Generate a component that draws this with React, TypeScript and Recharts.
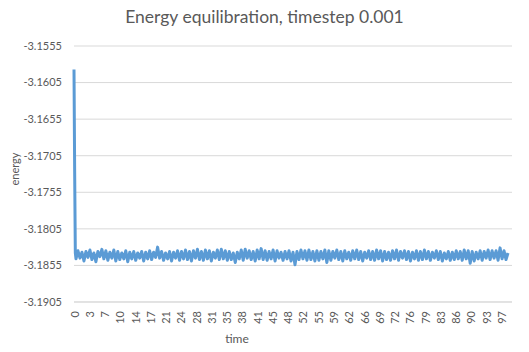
import { LineChart, Line, XAxis, YAxis, CartesianGrid, Label } from 'recharts';

// the first, steep drop is sampled more finely than the rest
const startTime = [0, 0.15, 0.3];
const startEnergy = [-3.1587, -3.1727, -3.1838];

// equilibrated part, one value every timeStep from 0.45
const timeStep = 0.45;
const energy = [
  -3.1846, -3.1835, -3.1845, -3.1837, -3.1849, -3.1836, -3.1844,
  -3.1834, -3.1847, -3.1838, -3.185, -3.1836, -3.1843, -3.1833, -3.1846, -3.1835, -3.1848,
  -3.1837, -3.1845, -3.1834, -3.1849, -3.1836, -3.1847, -3.1838, -3.1846, -3.1835, -3.185,
  -3.1837, -3.1846, -3.1836, -3.1848, -3.1838, -3.1845, -3.1836, -3.1849, -3.1837, -3.1846,
  -3.1835, -3.1847, -3.1837, -3.1844, -3.183, -3.1845, -3.1836, -3.1848, -3.1838, -3.1846,
  -3.1836, -3.1849, -3.1837, -3.1845, -3.1835, -3.1848, -3.1836, -3.1846, -3.1834, -3.1847,
  -3.1836, -3.1849, -3.1835, -3.1845, -3.1833, -3.1847, -3.1836, -3.1848, -3.1834, -3.1846,
  -3.1835, -3.1849, -3.1837, -3.1845, -3.1834, -3.1847, -3.1833, -3.1846, -3.1835, -3.1848,
  -3.1836, -3.1847, -3.1838, -3.1851, -3.1837, -3.1846, -3.1834, -3.1848, -3.1833, -3.1845,
  -3.1835, -3.1847, -3.1836, -3.1849, -3.1834, -3.1846, -3.1832, -3.1847, -3.1835, -3.1848,
  -3.1836, -3.1846, -3.1834, -3.1849, -3.1835, -3.1845, -3.1837, -3.1848, -3.1836, -3.1846,
  -3.1835, -3.1849, -3.1837, -3.1854, -3.1836, -3.1847, -3.1834, -3.1846, -3.1835, -3.1848,
  -3.1834, -3.1847, -3.1836, -3.1849, -3.1835, -3.1848, -3.1836, -3.1846, -3.1834, -3.1851,
  -3.1835, -3.1848, -3.1836, -3.1845, -3.1834, -3.1847, -3.1836, -3.1849, -3.1835, -3.1846,
  -3.1837, -3.1848, -3.1835, -3.1846, -3.1834, -3.1847, -3.1836, -3.1849, -3.1837, -3.1845,
  -3.1835, -3.1847, -3.1836, -3.1848, -3.1834, -3.1846, -3.1835, -3.1849, -3.1836, -3.1847,
  -3.1837, -3.1848, -3.1835, -3.1846, -3.1834, -3.1848, -3.1836, -3.1845, -3.1835, -3.1847,
  -3.1836, -3.1849, -3.1837, -3.1846, -3.1835, -3.1848, -3.1836, -3.1847, -3.1834, -3.1846,
  -3.1836, -3.1848, -3.1837, -3.1845, -3.1835, -3.1847, -3.1836, -3.1849, -3.1838, -3.1846,
  -3.1836, -3.1848, -3.1837, -3.1847, -3.1835, -3.1846, -3.1836, -3.1848, -3.1834, -3.1846,
  -3.1835, -3.1852, -3.1836, -3.1849, -3.1837, -3.1846, -3.1835, -3.1848, -3.1836, -3.1845,
  -3.1834, -3.1847, -3.1835, -3.1845, -3.1835, -3.1848, -3.1831, -3.1846, -3.1835, -3.1847,
  -3.1838,
];

// x tick positions (Excel shows them rounded)
const timeTicks = [
  0, 3.45, 6.9, 10.35, 13.8, 17.25, 20.7, 24.15, 27.6, 31.05, 34.5, 37.95, 41.4, 44.85, 48.3,
  51.75, 55.2, 58.65, 62.1, 65.55, 69, 72.45, 75.9, 79.35, 82.8, 86.25, 89.7, 93.15, 96.6,
];
const energyTicks = [-3.1905, -3.1855, -3.1805, -3.1755, -3.1705, -3.1655, -3.1605, -3.1555];

const data = [
  ...startTime.map((t, i) => ({ time: t, energy: startEnergy[i] })),
  ...energy.map((e, i) => ({ time: 0.45 + i * timeStep, energy: e })),
];

const FONT = 'Lato, "Open Sans", sans-serif';
const TEXT = '#595959';
const GRID = '#d9d9d9';

export default function App() {
  return (
    <div style={{ position: 'absolute', left: 0, top: 0, width: 529, height: 352, background: '#fff', fontFamily: FONT }}>
      <div
        style={{
          position: 'absolute',
          top: 6,
          width: 529,
          textAlign: 'center',
          fontSize: 17.5,
          color: TEXT,
          whiteSpace: 'nowrap',
        }}
      >
        Energy equilibration, timestep 0.001
      </div>
      <LineChart
        width={529}
        height={352}
        data={data}
        margin={{ top: 46, right: 17, bottom: 0, left: 0 }}
      >
        <CartesianGrid vertical={false} stroke={GRID} strokeWidth={1} />
        <XAxis
          dataKey="time"
          type="number"
          domain={[0, 99]}
          ticks={timeTicks}
          interval={0}
          tickFormatter={(v: number) => String(Math.round(v))}
          axisLine={{ stroke: GRID }}
          tickLine={false}
          height={50}
          tick={({ x, y, payload }: any) => (
            <text
              x={x}
              y={y + 1}
              transform={`rotate(-90 ${x} ${y + 1})`}
              textAnchor="end"
              dominantBaseline="central"
              fontSize={11}
              fill={TEXT}
              fontFamily={FONT}
            >
              {Math.round(payload.value)}
            </text>
          )}
        >
          <Label content={() => (
            <text x={237} y={343} textAnchor="middle" fontSize={12} fill={TEXT} fontFamily={FONT}>time</text>
          )} />
        </XAxis>
        <YAxis
          domain={[-3.1905, -3.1555]}
          ticks={energyTicks}
          interval={0}
          allowDataOverflow
          axisLine={false}
          tickLine={false}
          width={74}
          tickMargin={6}
          tick={{ fontSize: 11, fill: TEXT, fontFamily: FONT }}
          tickFormatter={(v: number) => v.toFixed(4)}
        >
          <Label content={() => (
            <text
              x={19}
              y={169}
              transform="rotate(-90 19 169)"
              textAnchor="middle"
              fontSize={11}
              fill={TEXT}
              fontFamily={FONT}
            >
              energy
            </text>
          )} />
        </YAxis>
        <Line
          type="linear"
          dataKey="energy"
          stroke="#5b9bd5"
          strokeWidth={3}
          dot={false}
          isAnimationActive={false}
          strokeLinejoin="round"
        />
      </LineChart>
    </div>
  );
}
